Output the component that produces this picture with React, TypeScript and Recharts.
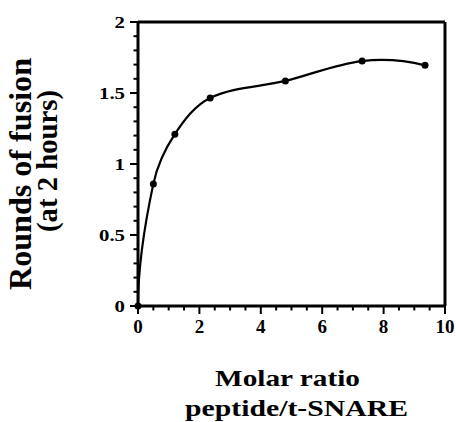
import { LineChart, Line, XAxis, YAxis, ReferenceLine, Customized } from "recharts"

const FONT = "Liberation Serif, Times New Roman, serif"

// molar ratio (x) and rounds of fusion (y)
const ratios = [0, 0.5, 1.2, 2.35, 4.8, 7.3, 9.35]
const rounds = [0, 0.86, 1.21, 1.465, 1.585, 1.725, 1.695]

const xTicks = [0, 0.5, 1, 1.5, 2, 2.5, 3, 3.5, 4, 4.5, 5, 5.5, 6, 6.5, 7, 7.5, 8, 8.5, 9, 9.5, 10]
const xMajor = [0, 2, 4, 6, 8, 10]
const yTicks = [0, 0.1, 0.2, 0.3, 0.4, 0.5, 0.6, 0.7, 0.8, 0.9, 1, 1.1, 1.2, 1.3, 1.4, 1.5, 1.6, 1.7, 1.8, 1.9, 2]
const yMajor = [0, 0.5, 1, 1.5, 2]

const data = ratios.map((r, i) => ({ ratio: r, rounds: rounds[i] }))

// smooth curve through the points; starts vertically like a saturation fit
function fitCurve(context: any) {
  let pts: number[][] = []
  const unit = (v: number[]) => {
    const l = Math.hypot(v[0], v[1]) || 1
    return [v[0] / l, v[1] / l]
  }
  return {
    areaStart() {},
    areaEnd() {},
    lineStart() {
      pts = []
    },
    point(x: number, y: number) {
      pts.push([+x, +y])
    },
    lineEnd() {
      const n = pts.length
      if (!n) return
      context.moveTo(pts[0][0], pts[0][1])
      if (n < 3) {
        for (let i = 1; i < n; i++) context.lineTo(pts[i][0], pts[i][1])
        return
      }
      const dirs: number[][] = []
      dirs[0] = [0, -1]
      for (let i = 1; i < n - 1; i++) {
        dirs[i] = unit([pts[i + 1][0] - pts[i - 1][0], pts[i + 1][1] - pts[i - 1][1]])
      }
      const c = unit([pts[n - 1][0] - pts[n - 2][0], pts[n - 1][1] - pts[n - 2][1]])
      dirs[n - 1] = unit([2 * c[0] - dirs[n - 2][0], 2 * c[1] - dirs[n - 2][1]])
      for (let i = 0; i < n - 1; i++) {
        const a = pts[i]
        const b = pts[i + 1]
        const h = Math.hypot(b[0] - a[0], b[1] - a[1]) / 3
        context.bezierCurveTo(
          a[0] + dirs[i][0] * h,
          a[1] + dirs[i][1] * h,
          b[0] - dirs[i + 1][0] * h,
          b[1] - dirs[i + 1][1] * h,
          b[0],
          b[1]
        )
      }
    },
  }
}

function XTick({ x, y, payload }: any) {
  const major = xMajor.includes(payload.value)
  return (
    <g>
      <line x1={x} x2={x} y1={y} y2={y + (major ? 8 : 4.5)} stroke="#000" strokeWidth={2} />
      {major && (
        <text x={x} y={y + 27} textAnchor="middle" fontSize={19} fontWeight="bold" style={{ fontFamily: FONT }} fill="#000">
          {payload.value}
        </text>
      )}
    </g>
  )
}

function YTick({ x, y, payload }: any) {
  const major = yMajor.some((m) => Math.abs(m - payload.value) < 1e-6)
  return (
    <g>
      <line x1={x - (major ? 8 : 4.5)} x2={x} y1={y} y2={y} stroke="#000" strokeWidth={2} />
      {major && (
        <text
          transform={`translate(${x - 13},${y + 5.5}) scale(1.3,1)`}
          textAnchor="end"
          fontSize={16}
          fontWeight="bold"
          style={{ fontFamily: FONT }}
          fill="#000"
        >
          {payload.value}
        </text>
      )}
    </g>
  )
}

function Titles() {
  const common = {
    fontWeight: "bold",
    style: { fontFamily: FONT },
    fill: "#000",
    textAnchor: "middle" as const,
    lengthAdjust: "spacingAndGlyphs",
  }
  return (
    <g>
      <text {...common} transform="translate(31,174) rotate(-90)" fontSize={32} textLength={232}>
        Rounds of fusion
      </text>
      <text {...common} transform="translate(57,161) rotate(-90)" fontSize={29} textLength={142}>
        (at 2 hours)
      </text>
      <text {...common} x={287.5} y={386} fontSize={23} textLength={145}>
        Molar ratio
      </text>
      <text {...common} x={296.5} y={416} fontSize={23} textLength={223}>
        peptide/t-SNARE
      </text>
    </g>
  )
}

export default function App() {
  return (
    <div style={{ position: "absolute", left: 0, top: 0, width: 456, height: 422, background: "#fff" }}>
      <LineChart width={456} height={422} data={data} margin={{ top: 22, right: 11, left: 0, bottom: 0 }}>
        <XAxis
          type="number"
          dataKey="ratio"
          domain={[0, 10]}
          ticks={xTicks}
          interval={0}
          height={116}
          tickSize={0}
          tickMargin={0}
          tickLine={false}
          tick={<XTick />}
          axisLine={{ stroke: "#000", strokeWidth: 3 }}
        />
        <YAxis
          type="number"
          domain={[0, 2]}
          ticks={yTicks}
          interval={0}
          width={138}
          tickSize={0}
          tickMargin={0}
          tickLine={false}
          tick={<YTick />}
          axisLine={{ stroke: "#000", strokeWidth: 3 }}
        />
        <ReferenceLine y={2} stroke="#000" strokeWidth={3} />
        <ReferenceLine x={10} stroke="#000" strokeWidth={3} />
        <Line
          type={fitCurve as any}
          dataKey="rounds"
          stroke="#000"
          strokeWidth={2.2}
          dot={{ r: 3.5, fill: "#000", stroke: "#000", strokeWidth: 0 }}
          isAnimationActive={false}
        />
        <Customized component={<Titles />} />
      </LineChart>
    </div>
  )
}
